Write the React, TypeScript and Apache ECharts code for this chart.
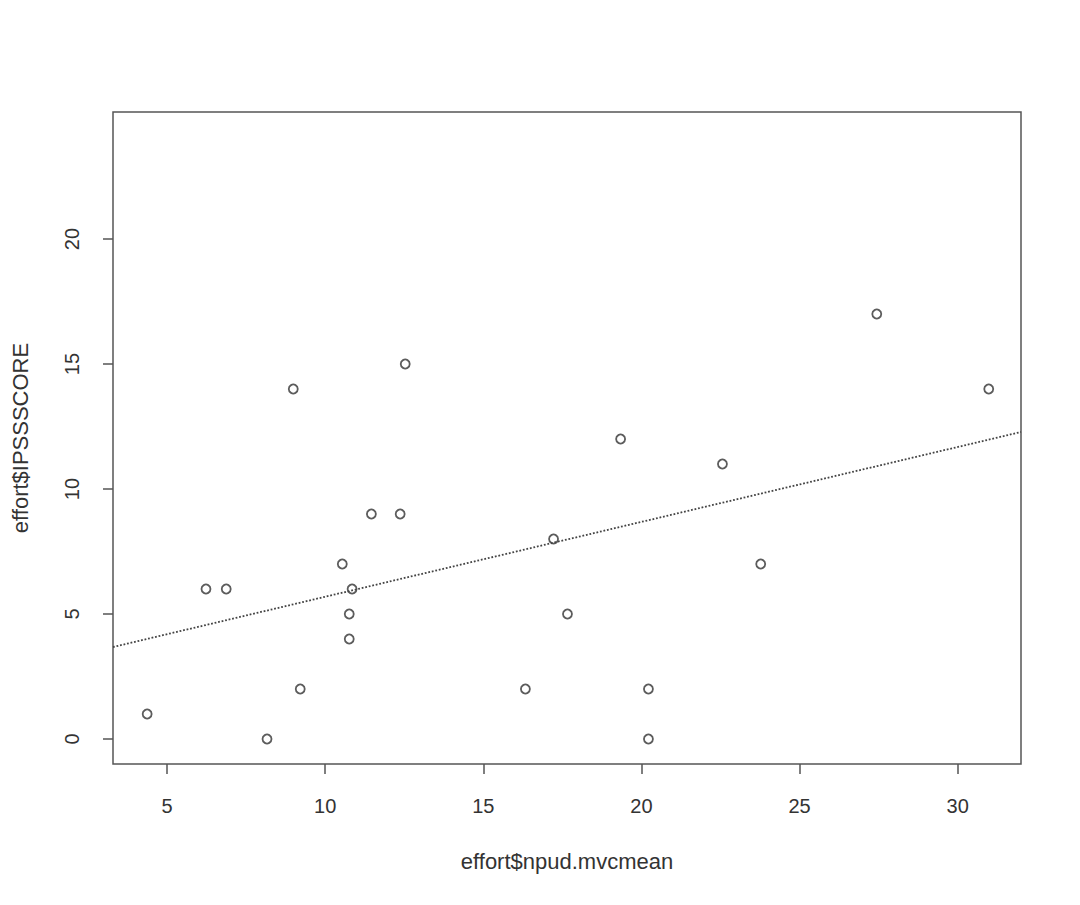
import React, { useEffect, useRef } from "react";
import * as echarts from "echarts";

const xValues = [4.37, 6.23, 6.87, 8.16, 8.99, 9.21, 10.54, 10.85, 10.76, 10.76, 11.46, 12.37, 12.53, 16.33, 17.22, 17.66, 19.34, 20.22, 20.22, 22.56, 23.77, 27.44, 30.98];
const yValues = [1, 6, 6, 0, 14, 2, 7, 6, 5, 4, 9, 9, 15, 2, 8, 5, 12, 2, 0, 11, 7, 17, 14];
const fitX = [3.29, 32.0];
const fitY = [3.68, 12.28];
const xTicks = [5, 10, 15, 20, 25, 30];
const yTicks = [0, 5, 10, 15, 20];
const xTitle = "effort$npud.mvcmean";
const yTitle = "effort$IPSSSCORE";

export default function App() {
  const ref = useRef<HTMLDivElement>(null);
  useEffect(() => {
    document.body.style.margin = "0";
    const chart = echarts.init(ref.current!, null, { renderer: "svg" });
    const axisColor = "#555";
    const textColor = "#333";
    const font = "Liberation Sans, Arial, sans-serif";
    chart.setOption({
      animation: false,
      backgroundColor: "#fff",
      grid: { left: 113, top: 112, width: 908, height: 652, show: true, borderColor: axisColor, borderWidth: 1.5, backgroundColor: "transparent" },
      xAxis: {
        type: "value",
        min: 3.29,
        max: 32.0,
        name: xTitle,
        nameLocation: "middle",
        nameGap: 86,
        nameTextStyle: { color: textColor, fontSize: 22, fontFamily: font },
        axisLine: { show: false, onZero: false },
        splitLine: { show: false },
        axisTick: { show: true, length: 10, customValues: xTicks, lineStyle: { color: axisColor, width: 1.5 } },
        axisLabel: { customValues: xTicks, margin: 32, color: textColor, fontSize: 20, fontFamily: font },
      },
      yAxis: {
        type: "value",
        min: -1.0,
        max: 25.08,
        name: yTitle,
        nameLocation: "middle",
        nameGap: 82,
        nameRotate: 90,
        nameTextStyle: { color: textColor, fontSize: 22, fontFamily: font },
        axisLine: { show: false, onZero: false },
        splitLine: { show: false },
        axisTick: { show: true, length: 10, customValues: yTicks, lineStyle: { color: axisColor, width: 1.5 } },
        axisLabel: { customValues: yTicks, rotate: 90, margin: 31, color: textColor, fontSize: 20, fontFamily: font },
      },
      series: [
        {
          type: "line",
          data: fitX.map((x, i) => [x, fitY[i]]),
          showSymbol: false,
          symbol: "none",
          lineStyle: { type: "dotted", width: 1.8, color: "#444" },
          silent: true,
        },
        {
          type: "scatter",
          data: xValues.map((x, i) => [x, yValues[i]]),
          symbol: "circle",
          symbolSize: 9,
          itemStyle: { color: "#fff", borderColor: "#333", borderWidth: 1.8 },
        },
      ],
    });
    return () => chart.dispose();
  }, []);
  return <div ref={ref} style={{ position: "absolute", left: 0, top: 0, width: 1080, height: 905 }} />;
}
